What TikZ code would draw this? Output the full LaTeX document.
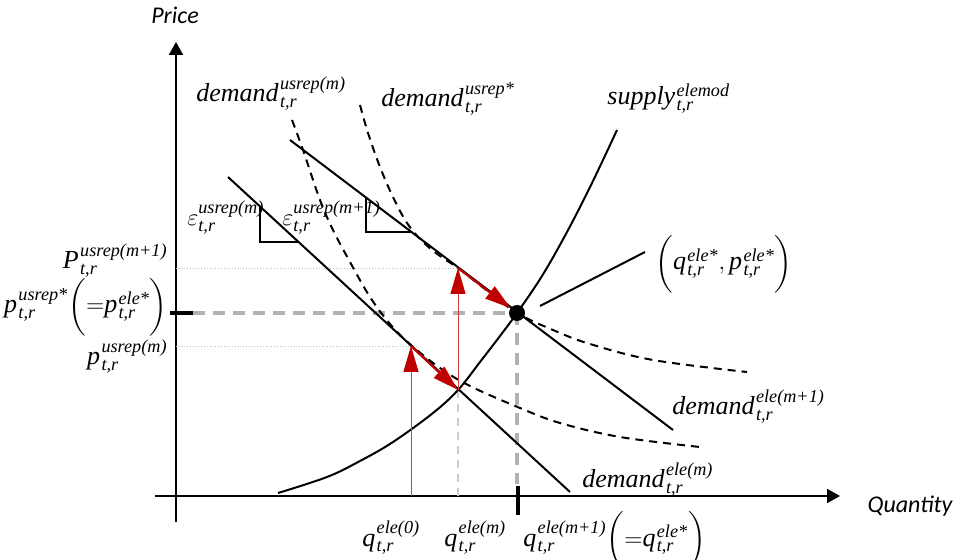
\documentclass[tikz,border=0pt]{standalone}
\usepackage{amsmath}
\usepackage{fontspec}
\setmainfont{Liberation Serif}
\newfontfamily\tms{Liberation Serif}
\newfontfamily\calibri{Carlito}
\usetikzlibrary{arrows.meta,calc}
\definecolor{darkred}{RGB}{192,0,0}
\newcommand{\ti}[1]{\text{\tms\itshape #1}}
\newcommand{\dlbl}[2]{\ti{#1}\mkern1mu^{\ti{#2}}_{\ti{t,r}}}

\begin{document}
\begin{tikzpicture}[
    x=0.5pt, y=-0.5pt,
    lbl/.style={inner sep=0pt, font=\fontsize{13}{15}\selectfont},
    axlbl/.style={inner sep=0pt, font=\calibri\itshape\fontsize{12}{14}\selectfont},
    axis/.style={-{Triangle[length=6.5pt,width=7pt]}, line width=1pt},
    curve/.style={line width=1pt},
    dcurve/.style={line width=1pt, dash pattern=on 4pt off 3pt},
    guide/.style={draw=gray!60, line width=2.2pt, dash pattern=on 6pt off 4pt},
    dotline/.style={draw=gray!50, line width=0.4pt, densely dotted},
    riser/.style={draw=darkred!75, line width=0.5pt, -{Triangle[length=13pt,width=7.5pt,color=darkred]}},
    slide/.style={draw=darkred, line width=1.1pt, -{Triangle[length=13pt,width=7.5pt]}},
    tick/.style={line width=1.8pt}
]
    \useasboundingbox (0,0) rectangle (958,560);

    \coordinate (O) at (176,496);
    \coordinate (ybot) at (176,522);
    \coordinate (ytop) at (176,42);
    \coordinate (xl) at (155,496);
    \coordinate (xr) at (840,496);
    \coordinate (A) at (411,346);
    \coordinate (B) at (458,390);
    \coordinate (C) at (458,268);
    \coordinate (E) at (517,313);
    \coordinate (dm1) at (228,177);
    \coordinate (dm2) at (570,492);
    \coordinate (dn1) at (290,140);
    \coordinate (dn2) at (673,430);

    \node [axlbl] (price) at (175,15) {Price};
    \node [axlbl] (qty) at (910,506) {Quantity};

    \node [lbl, anchor=base west] (dusm) at (196,102) {$\dlbl{demand}{usrep(m)}$};
    \node [lbl, anchor=base west] (dusx) at (381,107) {$\dlbl{demand}{usrep*}$};
    \node [lbl, anchor=base west] (sup) at (607,105) {$\dlbl{supply}{elemod}$};
    \node [lbl, anchor=base west] (eps1) at (187,226) {$\varepsilon^{\ti{usrep(m)}}_{\ti{t,r}}$};
    \node [lbl, anchor=base west] (eps2) at (282,226) {$\varepsilon^{\ti{usrep(m+1)}}_{\ti{t,r}}$};
    \node [lbl, anchor=base east] (pm1) at (168,269) {$\dlbl{P}{usrep(m+1)}$};
    \node [lbl, anchor=base east] (pst) at (168,313) {$\dlbl{p}{usrep*}\biggl({=}\dlbl{p}{ele*}\biggr)$};
    \node [lbl, anchor=base east] (pm) at (168,365) {$\dlbl{p}{usrep(m)}$};
    \node [lbl, anchor=base west] (q0) at (362,546) {$\dlbl{q}{ele(0)}$};
    \node [lbl, anchor=base west] (qm) at (444,546) {$\dlbl{q}{ele(m)}$};
    \node [lbl, anchor=base west] (qm1) at (523,546) {$\dlbl{q}{ele(m+1)}\biggl({=}\dlbl{q}{ele*}\biggr)$};
    \node [lbl, anchor=base west] (dem) at (582,488) {$\dlbl{demand}{ele(m)}$};
    \node [lbl, anchor=base west] (dem1) at (672,415) {$\dlbl{demand}{ele(m+1)}$};
    \node [lbl, anchor=base west] (eq) at (655,270) {$\biggl(\dlbl{q}{ele*}{,}\,\dlbl{p}{ele*}\biggr)$};

    \draw [axis] (ybot) -- (ytop);
    \draw [axis] (xl) -- (xr);

    \draw [dotline] (O |- C) -- (C);
    \draw [dotline] (O |- A) -- (A);
    \draw [draw=gray!40, line width=1pt, dash pattern=on 4pt off 3pt] (B) -- (B |- O);
    \draw [guide] (193,313) -- (E);
    \draw [guide] (E) -- (517,484);
    \draw [tick] (170,313) -- (193,313);
    \draw [tick] (518,486) -- (518,515);

    \draw [curve] (dm1) -- (dm2);
    \draw [curve] (dn1) -- (dn2);
    \draw [curve] (260,207) -- (260,242) -- (299,242);
    \draw [curve] (366,198) -- (366,232) -- (412,232);
    \draw [curve] plot [smooth, tension=0.6] coordinates {(278,493) (327,477) (360,461) (393,442) (433,413) (458,390) (480,362) (500,336) (517,313) (542,276) (567,232) (592,183) (617,130)};
    \draw [dcurve] plot [smooth, tension=0.6] coordinates {(292,120) (303,150) (320,200) (333,230) (350,262) (370,297) (390,324) (411,345) (440,368) (470,386) (520,408) (560,423) (620,437) (700,447)};
    \draw [dcurve] plot [smooth, tension=0.6] coordinates {(360,105) (368,133) (380,167) (393,197) (407,223) (423,242) (440,256) (458,268) (485,289) (517,313) (553,330) (590,344) (653,360) (747,372)};

    \draw [riser] (A |- O) -- (A);
    \draw [riser] (B) -- (C);
    \draw [slide] (A) -- (B);
    \draw [slide, shorten >=4pt] (C) -- (E);

    \node [circle, fill=black, inner sep=0pt, minimum size=8pt] (dot) at (E) {};
    \draw [curve] (540,306) -- ([shift={(-10,-12)}]eq.west);
\end{tikzpicture}
\end{document}
